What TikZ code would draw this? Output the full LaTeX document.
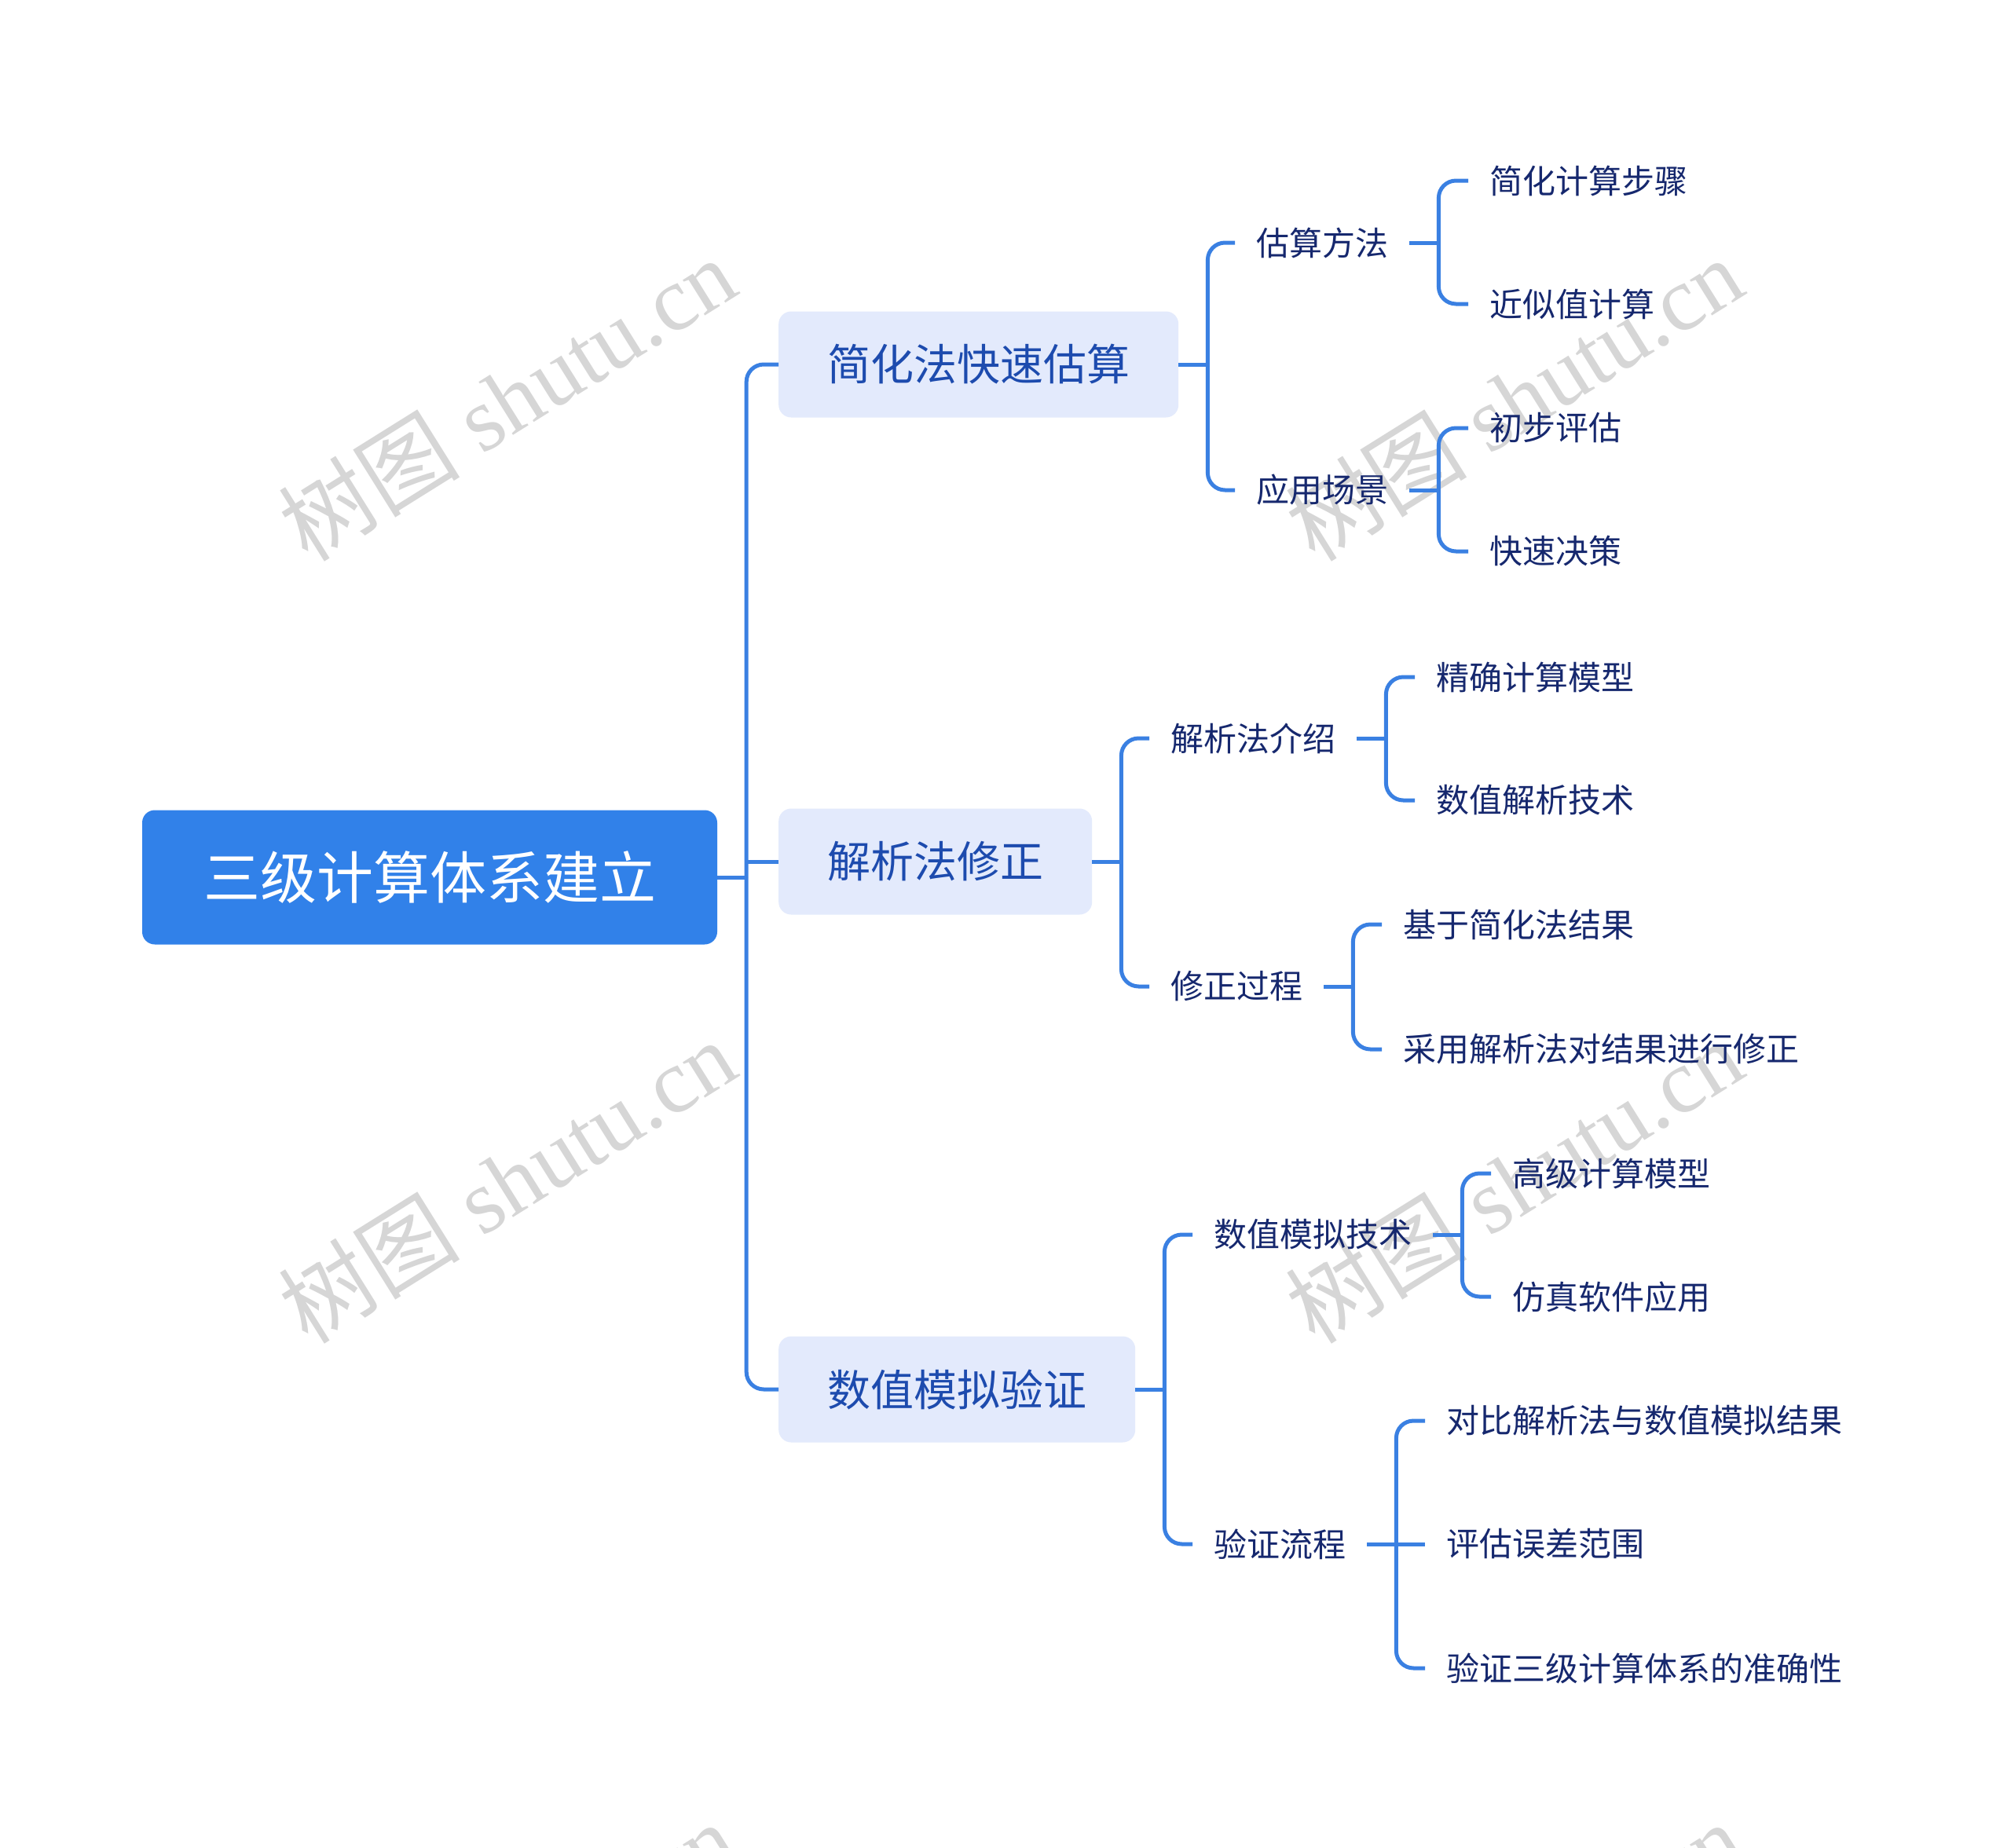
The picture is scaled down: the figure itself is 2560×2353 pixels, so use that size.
\documentclass[tikz,border=0pt]{standalone}
\usepackage{fontspec}
\setmainfont{Noto Sans CJK SC}
\newfontfamily\wmcjk{Noto Sans CJK SC}
\newfontfamily\wmlat{Liberation Serif}
\definecolor{rootblue}{HTML}{3181E9}
\definecolor{linec}{HTML}{3A80E2}
\definecolor{lonefill}{HTML}{E3EAFC}
\definecolor{lonetext}{HTML}{1D4BAE}
\definecolor{navytext}{HTML}{16286E}
\definecolor{wmgray}{HTML}{D6D6D6}
\begin{document}
\begin{tikzpicture}[x=1pt,y=-1pt,
  rootbox/.style={fill=rootblue, rounded corners=16pt, minimum width=732pt, minimum height=171pt, inner sep=0pt, text=white, font=\fontsize{72}{80}\selectfont},
  lonebox/.style={fill=lonefill, rounded corners=16pt, minimum height=135pt, inner xsep=62pt, inner ysep=0pt, text=lonetext, font=\fontsize{55}{62}\selectfont, anchor=west},
  lab/.style={inner xsep=27pt, inner ysep=4pt, text=navytext, font=\fontsize{42}{48}\selectfont, anchor=west},
  conn/.style={draw=linec, line width=5pt, rounded corners=22pt},
  wm/.style={text=wmgray, rotate=32, inner sep=0pt}]
\fill[white] (0,0) rectangle (2560,2353);
\useasboundingbox (0,0) rectangle (2560,2353);
% watermarks
\foreach \x/\y/\n in {645/508/1, 645/1504/2, 1927/508/3, 1927/1504/4, 645/2500/5, 1927/2500/6}
  \node[wm] (wm\n) at (\x,\y) {\fontsize{116}{120}\selectfont\wmcjk 树图\wmlat{} shutu.cn};
% root and level 1
\node[rootbox] (root) at (547,1117) {三级计算体系建立};
\node[lonebox] (a) at (991,464) {简化法快速估算};
\node[lonebox] (b) at (991,1097) {解析法修正};
\node[lonebox] (c) at (991,1769) {数值模拟验证};
% level 2
\node[lab] (a1) at (1572,309) {估算方法};
\node[lab] (a2) at (1572,624) {应用场景};
\node[lab] (b1) at (1463,940) {解析法介绍};
\node[lab] (b2) at (1463,1256) {修正过程};
\node[lab] (c1) at (1518,1572) {数值模拟技术};
\node[lab] (c2) at (1518,1966) {验证流程};
% leaves
\node[lab] (a11) at (1869,230) {简化计算步骤};
\node[lab] (a12) at (1869,387) {近似值计算};
\node[lab] (a21) at (1869,545) {初步评估};
\node[lab] (a22) at (1869,702) {快速决策};
\node[lab] (b11) at (1801,862) {精确计算模型};
\node[lab] (b12) at (1801,1019) {数值解析技术};
\node[lab] (b21) at (1759,1177) {基于简化法结果};
\node[lab] (b22) at (1759,1336) {采用解析法对结果进行修正};
\node[lab] (c11) at (1898,1494) {高级计算模型};
\node[lab] (c12) at (1898,1651) {仿真软件应用};
\node[lab] (c21) at (1814,1809) {对比解析法与数值模拟结果};
\node[lab] (c22) at (1814,1966) {评估误差范围};
\node[lab] (c23) at (1814,2124) {验证三级计算体系的准确性};
% connectors root
\coordinate (j0) at ([xshift=37pt]root.east);
\draw[conn] (root.east) -- (j0);
\draw[conn] (j0) |- (a.west);
\draw[conn] (j0) |- (c.west);
\draw[conn] (j0 |- b.west) -- (b.west);
% level 1 -> level 2
\foreach \p in {a,b,c}{
  \coordinate (j\p) at ([xshift=37pt]\p.east);
  \draw[conn] (\p.east) -- (j\p);
  \draw[conn] (j\p) |- (\p1.west);
  \draw[conn] (j\p) |- (\p2.west);
}
% level 2 -> leaves
\foreach \p in {a1,a2,b1,b2,c1,c2}{
  \coordinate (j\p) at ([xshift=37pt]\p.east);
  \draw[conn] (\p.east) -- (j\p);
  \draw[conn] (j\p) |- (\p1.west);
}
\foreach \p in {a1,a2,b1,b2,c1}{
  \draw[conn] (j\p) |- (\p2.west);
}
\draw[conn] (jc2) -- (c22.west);
\draw[conn] (jc2) |- (c23.west);
\end{tikzpicture}
\end{document}
